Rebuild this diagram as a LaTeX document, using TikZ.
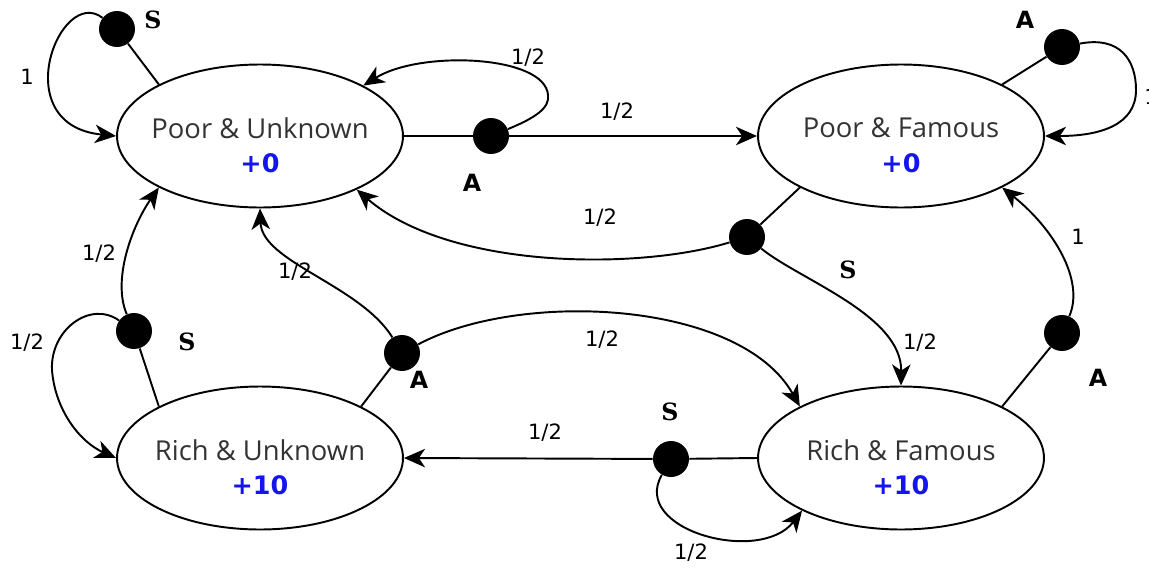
\documentclass[tikz,border=0pt]{standalone}
\usepackage{fontspec}
\setmainfont{DejaVu Sans}
\newfontfamily\statefont{Open Sans}
\newfontfamily\serifsym{DejaVu Serif}
\usetikzlibrary{shapes.geometric,arrows.meta}
\definecolor{reward}{RGB}{20,20,240}
\begin{document}
\begin{tikzpicture}[x=0.02cm,y=-0.02cm,
  state/.style={draw,ellipse,line width=1.1pt,minimum width=5.72cm,minimum height=2.86cm,inner sep=0pt},
  statename/.style={inner sep=0pt,font=\statefont\fontsize{15.6}{18}\selectfont,text=black!80},
  rewardtext/.style={inner sep=0pt,font=\bfseries\fontsize{14.5}{16}\selectfont,text=reward},
  act/.style={circle,fill=black,minimum size=0.72cm,inner sep=0pt},
  prob/.style={inner sep=0pt,font=\fontsize{12}{14}\selectfont},
  actA/.style={inner sep=0pt,font=\bfseries\fontsize{13.5}{16}\selectfont},
  actS/.style={inner sep=0pt,font=\serifsym\bfseries\fontsize{13.5}{16}\selectfont},
  edge/.style={line width=1.1pt},
  trans/.style={line width=1.1pt,-{Stealth[length=12pt,width=10.5pt,inset=3.5pt]}}]
\useasboundingbox (0,0) rectangle (1149,568);

% states
\node[state] (pu) at (260,136) {};
\node[state] (pf) at (901,136) {};
\node[state] (ru) at (260,458) {};
\node[state] (rf) at (901,458) {};
\node[statename] (pu-n) at (260,128) {Poor \& Unknown};
\node[rewardtext] (pu-r) at (260,163) {+0};
\node[statename] (pf-n) at (901,128) {Poor \& Famous};
\node[rewardtext] (pf-r) at (901,163) {+0};
\node[statename] (ru-n) at (260,450) {Rich \& Unknown};
\node[rewardtext] (ru-r) at (260,485) {+10};
\node[statename] (rf-n) at (901,450) {Rich \& Famous};
\node[rewardtext] (rf-r) at (901,485) {+10};

% action nodes
\node[act] (puS) at (117,29) {};
\node[act] (puA) at (491,136) {};
\node[act] (pfA) at (1062,47) {};
\node[act] (pfS) at (747,237) {};
\node[act] (rfA) at (1062,333) {};
\node[act] (rfS) at (671,459) {};
\node[act] (ruS) at (134,331) {};
\node[act] (ruA) at (402,353) {};

% state -> action
\draw[edge] (pu.153) -- (puS);
\draw[edge] (pu.east) -- (puA);
\draw[edge] (pf.27) -- (pfA);
\draw[edge] (pf.207) -- (pfS);
\draw[edge] (rf.27) -- (rfA);
\draw[edge] (rf.west) -- (rfS);
\draw[edge] (ru.153) -- (ruS);
\draw[edge] (ru.27) -- (ruA);

% Poor & Unknown, S
\draw[trans] (puS) .. controls (60,-15) and (5,125) .. (pu.west);
% Poor & Unknown, A
\draw[trans] (puA) -- (pf.west);
\draw[trans] (puA) .. controls (535,118) and (550,108) .. (548,95)
  .. controls (545,55) and (420,50) .. (pu.26);
% Poor & Famous, A
\draw[trans] (pfA) .. controls (1120,36) and (1136,60) .. (1136,90)
  .. controls (1136,125) and (1100,136) .. (pf.east);
% Poor & Famous, S
\draw[trans] (pfS) .. controls (640,270) and (450,270) .. (pu.-29);
\draw[trans] (pfS) .. controls (800,280) and (902,315) .. (rf.north);
% Rich & Famous, A
\draw[trans] (rfA) .. controls (1085,280) and (1053,228) .. (pf.-27);
% Rich & Famous, S
\draw[trans] (rfS) -- (ru.east);
\draw[trans] (rfS) .. controls (630,530) and (760,565) .. (rf.208);
% Rich & Unknown, S
\draw[trans] (ruS) .. controls (112,280) and (132,226) .. (pu.207);
\draw[trans] (ruS) .. controls (90,300) and (50,330) .. (52,370)
  .. controls (55,410) and (80,442) .. (ru.west);
% Rich & Unknown, A
\draw[trans] (ruA) .. controls (360,285) and (262,262) .. (pu.south);
\draw[trans] (ruA) .. controls (520,290) and (740,300) .. (rf.153);

% action names
\node[actS] (puS-l) at (153,20) {S};
\node[actA] (puA-l) at (472,183) {A};
\node[actA] (pfA-l) at (1025,20) {A};
\node[actS] (pfS-l) at (848,270) {S};
\node[actA] (rfA-l) at (1098,378) {A};
\node[actS] (rfS-l) at (670,412) {S};
\node[actS] (ruS-l) at (187,342) {S};
\node[actA] (ruA-l) at (419,380) {A};

% transition probabilities
\node[prob] (p1) at (27,77) {1};
\node[prob] (p2) at (528,58) {1/2};
\node[prob] (p3) at (617,112) {1/2};
\node[prob] (p4) at (1151,97) {1};
\node[prob] (p5) at (600,218) {1/2};
\node[prob] (p6) at (920,343) {1/2};
\node[prob] (p7) at (1078,237) {1};
\node[prob] (p8) at (545,433) {1/2};
\node[prob] (p9) at (691,553) {1/2};
\node[prob] (p10) at (99,254) {1/2};
\node[prob] (p11) at (27,343) {1/2};
\node[prob] (p12) at (295,272) {1/2};
\node[prob] (p13) at (602,340) {1/2};
\end{tikzpicture}
\end{document}
